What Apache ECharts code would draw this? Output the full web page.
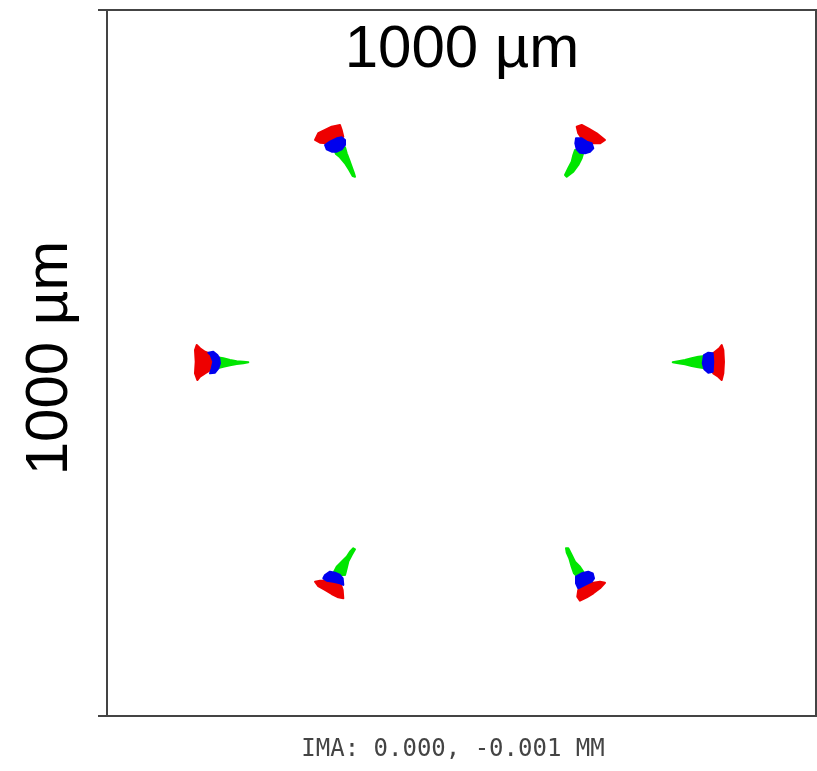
<!DOCTYPE html>
<html><head><meta charset="utf-8">
<script src="https://cdn.jsdelivr.net/npm/echarts@6/dist/echarts.min.js"></script>
<style>html,body{margin:0;padding:0;background:#fff}#c{width:817px;height:771px}</style>
</head><body><div id="c"></div>
<script>
// Spot diagram outlines, in µm, relative to the image centre (y up)
const spotNames = ['left', 'topLeft', 'topRight', 'right', 'bottomRight', 'bottomLeft'];
const greenSpots = [
  [[-344.4,8.1],[-336.0,6.7],[-326.5,4.2],[-317.1,2.4],[-307.8,1.8],[-300.7,1.0],[-307.8,-0.4],[-317.1,-1.4],[-326.5,-3.3],[-336.0,-5.2],[-344.4,-7.5],[-341.6,0.4]],
  [[-178.4,299.3],[-171.4,302.7],[-164.3,305.5],[-161.9,297.0],[-158.3,287.5],[-154.9,278.0],[-151.6,268.7],[-150.2,263.9],[-153.5,264.9],[-158.3,273.4],[-164.3,282.9],[-171.4,291.4],[-177.0,296.0]],
  [[160.1,301.7],[167.1,299.3],[171.8,297.9],[169.5,289.9],[164.7,280.5],[157.7,271.0],[148.4,263.9],[146.0,266.3],[150.6,275.8],[155.4,285.1],[157.7,294.6]],
  [[297.9,1.0],[305.8,2.4],[315.2,4.2],[324.7,6.7],[334.0,8.9],[343.4,9.9],[343.4,-7.5],[334.0,-6.1],[324.7,-4.2],[315.2,-1.8],[305.8,-0.4]],
  [[147.4,-262.5],[150.6,-262.5],[155.4,-272.0],[160.1,-281.4],[167.1,-288.5],[171.8,-295.6],[169.5,-298.9],[162.5,-301.7],[158.7,-297.9],[155.4,-288.5],[152.0,-276.6],[148.4,-268.7]],
  [[-180.8,-297.9],[-176.0,-288.5],[-169.0,-281.4],[-161.9,-274.4],[-157.3,-267.3],[-152.6,-262.5],[-150.2,-263.9],[-154.9,-272.0],[-159.7,-281.4],[-161.9,-290.8],[-164.3,-300.3],[-171.4,-300.3]]
];
const blueSpots = [
  [[-357.1,14.6],[-350.1,16.0],[-344.4,11.3],[-341.6,6.7],[-340.6,-0.4],[-343.0,-7.5],[-347.7,-13.7],[-354.7,-14.6],[-352.3,-7.5],[-350.1,1.8],[-353.7,11.3]],
  [[-192.5,308.8],[-185.5,313.5],[-176.0,318.3],[-169.0,319.7],[-164.3,315.9],[-164.3,308.8],[-169.0,302.7],[-176.0,299.3],[-183.1,299.3],[-190.1,302.7]],
  [[161.5,318.3],[169.5,318.3],[176.6,313.5],[183.6,311.2],[185.9,304.1],[181.2,299.3],[174.2,297.0],[167.1,297.9],[162.5,302.7],[160.5,311.2]],
  [[342.0,11.3],[348.1,14.6],[354.3,13.7],[355.1,1.8],[354.3,-12.3],[348.1,-13.7],[342.5,-8.9],[340.2,-0.4]],
  [[161.5,-302.7],[169.5,-297.9],[178.8,-295.6],[185.0,-297.9],[186.9,-305.0],[183.6,-309.8],[174.2,-314.4],[164.7,-319.1],[161.5,-312.0]],
  [[-192.5,-300.3],[-185.5,-295.6],[-178.4,-297.0],[-171.4,-300.3],[-167.6,-305.0],[-166.7,-314.4],[-171.4,-312.0],[-180.8,-309.8],[-190.1,-308.4],[-194.9,-305.0]]
];
const redSpots = [
  [[-373.5,25.5],[-368.8,20.8],[-361.8,16.0],[-353.7,12.7],[-350.1,1.8],[-353.7,-9.9],[-361.8,-14.6],[-368.8,-19.4],[-372.6,-24.1],[-375.9,-14.6],[-374.9,1.8],[-375.9,18.4]],
  [[-206.6,315.9],[-202.0,325.4],[-192.5,330.0],[-183.1,334.7],[-171.4,337.1],[-169.0,330.0],[-166.7,320.5],[-171.4,315.9],[-180.8,311.2],[-190.1,311.2],[-199.6,312.0]],
  [[162.5,334.7],[169.5,337.1],[178.8,332.4],[190.7,325.4],[202.4,315.9],[195.3,311.2],[185.9,311.2],[176.6,313.5],[169.5,318.3],[164.7,325.4]],
  [[367.0,25.5],[369.3,18.4],[370.2,1.8],[369.3,-14.6],[367.0,-24.1],[362.2,-19.4],[355.1,-14.6],[350.5,-7.5],[349.5,1.8],[351.5,11.3],[357.5,16.0],[363.6,20.8]],
  [[164.7,-321.5],[174.2,-314.4],[185.9,-311.2],[195.3,-309.8],[202.4,-311.2],[195.3,-319.1],[185.9,-326.2],[176.6,-331.9],[167.1,-336.7],[163.3,-331.0]],
  [[-206.6,-309.8],[-199.6,-308.4],[-190.1,-308.4],[-180.8,-306.4],[-171.4,-309.8],[-167.6,-321.5],[-166.7,-333.3],[-173.8,-331.9],[-183.1,-327.2],[-192.5,-321.5],[-202.0,-315.9]]
];
const axisMin = -500, axisMax = 500;
const scaleLabel = '1000 µm';
const footerLabel = 'IMA: 0.000, -0.001 MM';

function spotSeries(name, polys, color, z) {
  return {
    type: 'custom', name: name, coordinateSystem: 'cartesian2d', z: z,
    data: polys.map((p, i) => [p[0][0], p[0][1], i]),
    renderItem: function (params, api) {
      const poly = polys[api.value(2)];
      const pts = poly.map(v => api.coord(v));
      return { type: 'polygon', shape: { points: pts }, style: { fill: color, stroke: color, lineWidth: 2, lineJoin: 'round' } };
    }
  };
}

const chart = echarts.init(document.getElementById('c'), null, { renderer: 'canvas' });
chart.setOption({
  animation: false,
  backgroundColor: '#fff',
  grid: { left: 107, top: 10, width: 709, height: 706, show: true, borderColor: '#444', borderWidth: 2, backgroundColor: 'transparent' },
  xAxis: { type: 'value', min: axisMin, max: axisMax, axisLine: { show: false }, axisTick: { show: false }, axisLabel: { show: false }, splitLine: { show: false } },
  yAxis: { type: 'value', min: axisMin, max: axisMax, interval: 1000,
    axisLine: { show: true, onZero: false, lineStyle: { color: '#444', width: 2 } },
    axisTick: { show: true, length: 9, lineStyle: { color: '#444', width: 2 } },
    axisLabel: { show: false }, splitLine: { show: false } },
  graphic: [
    { type: 'text', x: 462, y: 20, style: { text: scaleLabel, font: '60px "Liberation Sans", Arial, sans-serif', fill: '#000', textAlign: 'center', textVerticalAlign: 'top' }, silent: true },
    { type: 'text', x: 50, y: 358, rotation: Math.PI / 2, style: { text: scaleLabel, font: '60px "Liberation Sans", Arial, sans-serif', fill: '#000', textAlign: 'center', textVerticalAlign: 'middle' }, silent: true },
    { type: 'text', x: 453, y: 750, style: { text: footerLabel, font: '24px "DejaVu Sans Mono", monospace', fill: '#444', textAlign: 'center', textVerticalAlign: 'middle' }, silent: true }
  ],
  series: [
    spotSeries('green', greenSpots, '#00e600', 2),
    spotSeries('red', redSpots, '#ee0000', 3),
    spotSeries('blue', blueSpots, '#0000ee', 4)
  ]
});
</script></body></html>
